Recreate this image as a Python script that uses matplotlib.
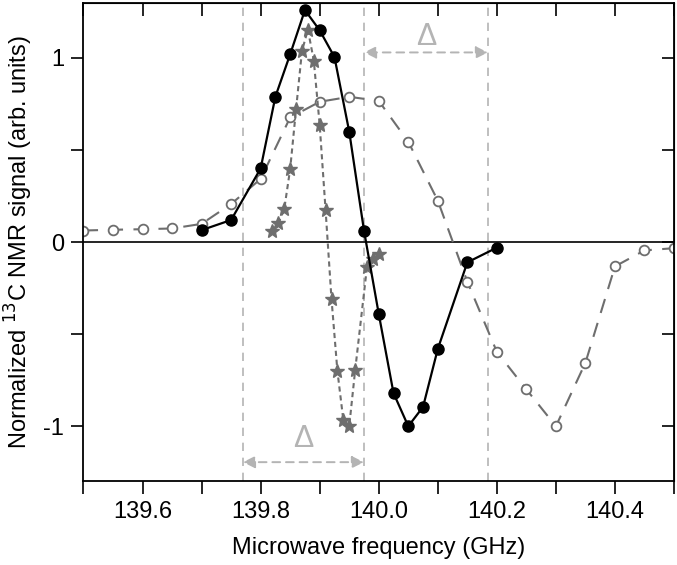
import matplotlib
matplotlib.use('Agg')
import matplotlib.pyplot as plt
from matplotlib.ticker import MultipleLocator

plt.rcParams['font.family'] = ['Liberation Sans', 'DejaVu Sans']

# datos: circulos negros (linea continua)
f_negro = [139.70, 139.75, 139.80, 139.825, 139.85, 139.875, 139.90, 139.925, 139.95,
           139.975, 140.0, 140.025, 140.05, 140.075, 140.10, 140.15, 140.20]
s_negro = [0.065, 0.12, 0.40, 0.79, 1.02, 1.26, 1.15, 1.005, 0.60,
           0.063, -0.39, -0.82, -1.0, -0.895, -0.58, -0.11, -0.03]

# circulos abiertos (linea de trazos largos)
f_abierto = [139.50, 139.55, 139.60, 139.65, 139.70, 139.75, 139.80, 139.85, 139.90, 139.95,
             140.00, 140.05, 140.10, 140.15, 140.20, 140.25, 140.30, 140.35, 140.40, 140.45, 140.50]
s_abierto = [0.063, 0.067, 0.07, 0.074, 0.099, 0.207, 0.343, 0.677, 0.762, 0.789,
             0.767, 0.545, 0.225, -0.215, -0.596, -0.80, -1.0, -0.655, -0.132, -0.045, -0.033]

# estrellas (linea de trazos cortos)
f_estrella = [139.82, 139.83, 139.84, 139.85, 139.86, 139.87, 139.88, 139.89, 139.90,
              139.91, 139.92, 139.93, 139.94, 139.95, 139.96, 139.98, 139.99, 140.00]
s_estrella = [0.063, 0.103, 0.18, 0.397, 0.722, 1.038, 1.154, 0.986, 0.635,
              0.173, -0.309, -0.70, -0.966, -1.0, -0.697, -0.137, -0.092, -0.065]

# lineas verticales y flechas delta
f_vert = [139.77, 139.975, 140.185]
y_flecha = [1.03, -1.195]

fig = plt.figure(figsize=(6.77, 5.65), dpi=100)
ax = fig.add_axes([0.1233, 0.1478, 0.8723, 0.8474])

gris = '#6e6e6e'
claro = '#b4b4b4'

for fv in f_vert:
    ax.axvline(fv, color=claro, lw=1.2, ls=(0, (5, 4)), zorder=1)
ax.axhline(0, color='black', lw=1.2, zorder=1)

ax.plot(f_abierto, s_abierto, color=gris, lw=1.5, ls=(0, (7, 5)), marker='o', ms=7,
        mfc='white', mec=gris, mew=1.3, zorder=2)
ax.plot(f_estrella, s_estrella, color=gris, lw=1.5, ls=(0, (2.5, 1.8)), marker='*', ms=10,
        mfc=gris, mec=gris, zorder=3)
ax.plot(f_negro, s_negro, color='black', lw=1.6, marker='o', ms=8, zorder=4)

estilo = dict(arrowstyle='<|-|>', color=claro, lw=1.4, ls=(0, (4, 3)),
              mutation_scale=18, shrinkA=0, shrinkB=0)
ax.annotate('', xy=(f_vert[1], y_flecha[0]), xytext=(f_vert[2], y_flecha[0]), arrowprops=estilo)
ax.annotate('', xy=(f_vert[0], y_flecha[1]), xytext=(f_vert[1], y_flecha[1]), arrowprops=estilo)
ax.text((f_vert[1] + f_vert[2]) / 2, 1.116, 'Δ', color=claro, fontsize=22, ha='center', va='center')
ax.text((f_vert[0] + f_vert[1]) / 2, -1.07, 'Δ', color=claro, fontsize=22, ha='center', va='center')

ax.set_xlim(139.5, 140.5)
ax.set_ylim(-1.3, 1.3)
ax.set_xticks([139.6, 139.8, 140.0, 140.2, 140.4])
ax.set_xticklabels(['139.6', '139.8', '140.0', '140.2', '140.4'])
ax.xaxis.set_minor_locator(MultipleLocator(0.1))
ax.set_yticks([-1, 0, 1])
ax.set_yticklabels(['-1', '0', '1'])
ax.yaxis.set_minor_locator(MultipleLocator(0.5))
ax.tick_params(which='both', direction='out', labelsize=17, width=1.2, length=9, pad=5)
for s in ax.spines.values():
    s.set_linewidth(1.3)

ax.set_xlabel('Microwave frequency (GHz)', fontsize=17, labelpad=10)
ax.set_ylabel('Normalized $^{13}$C NMR signal (arb. units)', fontsize=17, labelpad=6)

# ticks de arriba y derecha hacia adentro
ax2 = ax.secondary_xaxis('top')
ax2.set_xticks([139.6, 139.8, 140.0, 140.2, 140.4])
ax2.xaxis.set_minor_locator(MultipleLocator(0.1))
ax2.tick_params(which='both', direction='in', length=9, width=1.2, labeltop=False)
ax3 = ax.secondary_yaxis('right')
ax3.set_yticks([-1, 0, 1])
ax3.yaxis.set_minor_locator(MultipleLocator(0.5))
ax3.tick_params(which='both', direction='in', length=9, width=1.2, labelright=False)

fig.savefig('out.png', dpi=100)
